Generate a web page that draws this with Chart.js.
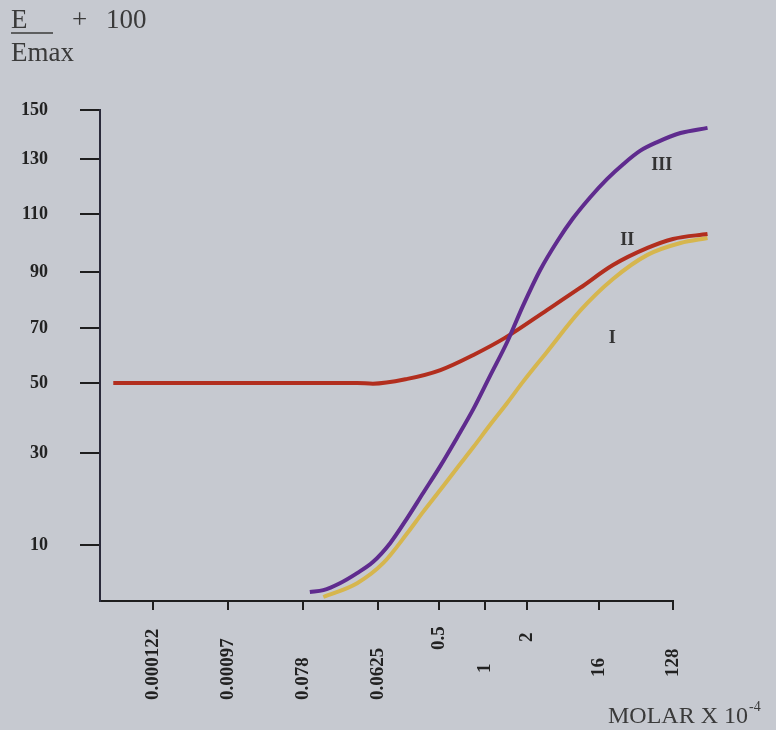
<!DOCTYPE html>
<html>
<head>
<meta charset="utf-8">
<script src="https://cdn.jsdelivr.net/npm/chart.js@4/dist/chart.umd.min.js"></script>
<style>
    body { margin: 0; background: #c6c9d0; }
    #wrap { width: 776px; height: 730px; }
</style>
</head>
<body>
<div id="wrap"><canvas id="doseChart" width="776" height="730"></canvas></div>
<script>
// Axis ticks (x: position units along the printed axis, the labels are as printed)
const xTickPos = [1, 2, 3, 4, 4.81, 5.43, 5.99, 6.95, 7.93];
const xTickLabels = ['0.000122', '0.00097', '0.078', '0.0625', '0.5', '1', '2', '16', '128'];
// the printed y axis is not evenly spaced: value -> height on the axis
const yTickValues = [10, 30, 50, 70, 90, 110, 130, 150];
const yTickPos = [56, 148, 218, 273, 329, 387, 442, 491];

// Curve I (yellow)
const doseI = [3.27, 3.72, 4.07, 4.39, 4.6, 4.83, 5.05, 5.27, 5.49, 5.72, 5.93, 6.25, 6.69, 7.13, 7.59, 8.03, 8.39];
const respI = [-1.3, 1.7, 6.1, 12.6, 17.2, 22.0, 26.7, 31.7, 38.0, 44.3, 50.4, 61.3, 76.1, 87.5, 95.9, 100.0, 101.7];
// Curve II (red)
const doseII = [0.47, 1.0, 2.0, 3.0, 3.72, 3.93, 4.39, 4.83, 5.27, 5.69, 6.25, 6.69, 7.13, 7.59, 7.93, 8.39];
const respII = [50, 50, 50, 50, 50, 49.8, 51.5, 54.7, 60.2, 66.4, 76.4, 84.3, 92.4, 98.3, 101.4, 103.1];
// Curve III (purple)
const doseIII = [3.09, 3.27, 3.49, 3.72, 3.93, 4.16, 4.39, 4.6, 4.83, 5.05, 5.27, 5.49, 5.72, 5.93, 6.16, 6.39, 6.6, 6.83, 7.05, 7.27, 7.49, 7.72, 8.03, 8.39];
const respIII = [-0.2, 0.2, 1.7, 3.9, 6.3, 10.4, 15.9, 21.3, 27.2, 34.3, 42.6, 52.5, 64.9, 77.9, 90.7, 100.7, 108.6, 116.2, 122.7, 128.2, 133.3, 136.9, 140.6, 142.7];

// Curve names written next to the lines
const curveNames = ['III', 'II', 'I'];
const curveNameDose = [7.78, 7.32, 7.12];
const curveNameResp = [127.8, 101, 66.4];

// how far below the axis each rotated x label starts (px)
const xLabelDrop = [99, 99, 99, 99, 49, 72, 41, 76, 76];

// x range of the drawn axis
const xMin = 0.293;
const xMax = 7.93;

// map a response value onto the uneven printed axis
function toAxis(v) {
    let i = 0;
    while (i < yTickValues.length - 2 && v > yTickValues[i + 1]) i++;
    const t = (v - yTickValues[i]) / (yTickValues[i + 1] - yTickValues[i]);
    return yTickPos[i] + t * (yTickPos[i + 1] - yTickPos[i]);
}

function points(xs, ys) {
    return xs.map((x, i) => ({ x: x, y: toAxis(ys[i]) }));
}

const serif = '"Liberation Serif", "DejaVu Serif", serif';

// header, axis title, rotated x labels and curve names
const textPlugin = {
    id: 'texts',
    beforeDraw(chart) {
        const ctx = chart.ctx;
        ctx.save();
        ctx.fillStyle = '#c6c9d0';
        ctx.fillRect(0, 0, chart.width, chart.height);
        ctx.restore();
    },
    afterDraw(chart) {
        const ctx = chart.ctx;
        const xs = chart.scales.x;
        const ys = chart.scales.y;
        ctx.save();

        // header "E / Emax + 100"
        ctx.fillStyle = '#3a3a3a';
        ctx.font = '27px ' + serif;
        ctx.textBaseline = 'alphabetic';
        ctx.textAlign = 'left';
        ctx.fillText('E', 11, 28);
        ctx.fillText('+', 72, 28);
        ctx.fillText('100', 106, 28);
        ctx.fillText('Emax', 11, 61);
        ctx.strokeStyle = '#3a3a3a';
        ctx.lineWidth = 1.5;
        ctx.beginPath();
        ctx.moveTo(11, 33);
        ctx.lineTo(53, 33);
        ctx.stroke();

        // axis title
        ctx.font = '24px ' + serif;
        ctx.fillText('MOLAR X 10', 608, 723);
        const w = ctx.measureText('MOLAR X 10').width;
        ctx.font = '14px ' + serif;
        ctx.fillText('-4', 608 + w + 1, 711);

        // x tick labels, read bottom to top
        ctx.fillStyle = '#222';
        ctx.font = 'bold 19px ' + serif;
        ctx.textAlign = 'left';
        ctx.textBaseline = 'middle';
        xTickPos.forEach((p, i) => {
            const px = xs.getPixelForValue(p);
            ctx.save();
            ctx.translate(px, chart.chartArea.bottom + xLabelDrop[i]);
            ctx.rotate(-Math.PI / 2);
            ctx.fillText(xTickLabels[i], 0, 0);
            ctx.restore();
        });

        // curve names
        ctx.fillStyle = '#333';
        ctx.font = 'bold 18px ' + serif;
        ctx.textAlign = 'center';
        curveNames.forEach((name, i) => {
            ctx.fillText(name, xs.getPixelForValue(curveNameDose[i]), ys.getPixelForValue(toAxis(curveNameResp[i])));
        });
        ctx.restore();
    }
};

const lineStyle = {
    borderWidth: 4,
    pointRadius: 0,
    cubicInterpolationMode: 'monotone',
    fill: false,
    clip: false
};

new Chart(document.getElementById('doseChart').getContext('2d'), {
    type: 'line',
    data: {
        datasets: [
            Object.assign({ label: 'III', data: points(doseIII, respIII), borderColor: '#5f2b8e' }, lineStyle),
            Object.assign({ label: 'II', data: points(doseII, respII), borderColor: '#b22e1e' }, lineStyle),
            Object.assign({ label: 'I', data: points(doseI, respI), borderColor: '#d6b64e' }, lineStyle)
        ]
    },
    options: {
        responsive: false,
        animation: false,
        layout: {
            padding: { left: 0, top: 110, right: 103, bottom: 120 }
        },
        plugins: {
            legend: { display: false },
            tooltip: { enabled: false }
        },
        scales: {
            x: {
                type: 'linear',
                bounds: 'data',
                // range set here (not as min/max) so the curves keep running past the last tick
                afterDataLimits: function(scale) {
                    scale.min = xMin;
                    scale.max = xMax;
                },
                afterBuildTicks: function(scale) {
                    scale.ticks = xTickPos.map(v => ({ value: v }));
                    scale.min = xMin;
                    scale.max = xMax;
                },
                afterFit: function(scale) {
                    scale.height = 9;
                },
                ticks: { display: false },
                grid: {
                    display: true,
                    drawOnChartArea: false,
                    drawTicks: true,
                    tickLength: 9,
                    color: '#1e1e1e',
                    lineWidth: 2
                },
                border: { display: true, color: '#1e1e1e', width: 2 }
            },
            y: {
                type: 'linear',
                min: 0,
                max: 491,
                afterBuildTicks: function(scale) {
                    scale.ticks = yTickPos.map(v => ({ value: v }));
                },
                afterFit: function(scale) {
                    scale.width = 100;
                },
                ticks: {
                    padding: 32,
                    color: '#222',
                    font: { family: serif, size: 18, weight: 'bold' },
                    callback: function(value) {
                        const i = yTickPos.indexOf(value);
                        return i >= 0 ? String(yTickValues[i]) : '';
                    }
                },
                grid: {
                    display: true,
                    drawOnChartArea: false,
                    drawTicks: true,
                    tickLength: 20,
                    color: '#1e1e1e',
                    lineWidth: 2
                },
                border: { display: true, color: '#2a2a3a', width: 2 }
            }
        }
    },
    plugins: [textPlugin]
});
</script>
</body>
</html>
